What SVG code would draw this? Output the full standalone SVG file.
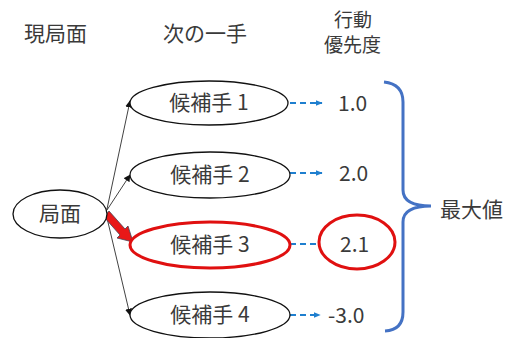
<svg xmlns="http://www.w3.org/2000/svg" width="514" height="338" viewBox="0 0 514 338">
<defs>
<style>
text{font-family:"Noto Sans CJK JP","Noto Sans",sans-serif;fill:#3a3a3a;}
.lbl{font-size:21px;}
.hd{font-size:21px;}
.sm{font-size:19px;}
.num{font-size:21px;}
.node{fill:#fff;stroke:#111;stroke-width:1.3;}
.sel{fill:#fff;stroke:#e01010;stroke-width:3;}
.ln{stroke:#111;stroke-width:0.8;fill:none;}
.dash{stroke:#1f7fcf;stroke-width:1.8;stroke-dasharray:6 4;fill:none;}
</style>
<marker id="ah" viewBox="0 0 10 10" refX="9" refY="5" markerWidth="7" markerHeight="7" orient="auto" markerUnits="userSpaceOnUse">
<path d="M0,0 L10,5 L0,10 z" fill="#111"/>
</marker>
<marker id="bh" viewBox="0 0 10 10" refX="9" refY="5" markerWidth="7" markerHeight="7" orient="auto" markerUnits="userSpaceOnUse">
<path d="M0,1 L10,5 L0,9 z" fill="#1f7fcf"/>
</marker>
</defs>
<rect width="514" height="338" fill="#fff"/>
<text class="hd" x="24" y="41">現局面</text>
<text class="hd" x="163" y="41">次の一手</text>
<text class="sm" x="334" y="27">行動</text>
<text class="sm" x="324" y="52">優先度</text>

<g id="connectors">
<line class="ln" x1="107" y1="209" x2="130" y2="101" marker-end="url(#ah)"/>
<line class="ln" x1="107" y1="210" x2="130" y2="175" marker-end="url(#ah)"/>
<line class="ln" x1="107" y1="218" x2="130" y2="315" marker-end="url(#ah)"/>
<path d="M104,217 L109,211 L125,229 L128,226 L133,242 L117,238 L120,235 Z" fill="#e81818" stroke="#445" stroke-width="0.8"/>
<line class="dash" x1="290" y1="103" x2="322" y2="103" marker-end="url(#bh)"/>
<line class="dash" x1="290" y1="173" x2="322" y2="173" marker-end="url(#bh)"/>
<line class="dash" x1="290" y1="244" x2="318" y2="244"/>
<line class="dash" x1="290" y1="315" x2="320" y2="315" marker-end="url(#bh)"/>
<path d="M384,82 Q403,84 403,102 L403,190 Q403,206 431,206 Q403,206 403,222 L403,312 Q403,330 385,331" fill="none" stroke="#4472c4" stroke-width="3"/>
</g>

<g id="node-kyokumen">
<ellipse class="node" cx="60" cy="214" rx="47" ry="24"/>
<text class="lbl" x="60" y="221" text-anchor="middle">局面</text>
</g>
<g id="node-c1">
<ellipse class="node" cx="209" cy="103" rx="79" ry="22"/>
<text class="lbl" x="209" y="110" text-anchor="middle">候補手 1</text>
</g>
<g id="node-c2">
<ellipse class="node" cx="210" cy="175" rx="80" ry="23"/>
<text class="lbl" x="210" y="182" text-anchor="middle">候補手 2</text>
</g>
<g id="node-c3">
<ellipse class="sel" cx="210" cy="245" rx="80" ry="23"/>
<text class="lbl" x="210" y="252" text-anchor="middle">候補手 3</text>
</g>
<g id="node-c4">
<ellipse class="node" cx="210" cy="315" rx="80" ry="23"/>
<text class="lbl" x="210" y="322" text-anchor="middle">候補手 4</text>
</g>
<g id="values">
<text class="num" x="338" y="111">1.0</text>
<text class="num" x="339" y="181">2.0</text>
<ellipse cx="357" cy="242" rx="38" ry="27" fill="none" stroke="#e01010" stroke-width="3"/>
<text class="num" x="340" y="252">2.1</text>
<text class="num" x="328" y="323">-3.0</text>
</g>
<text class="hd" x="440" y="217">最大値</text>
</svg>
